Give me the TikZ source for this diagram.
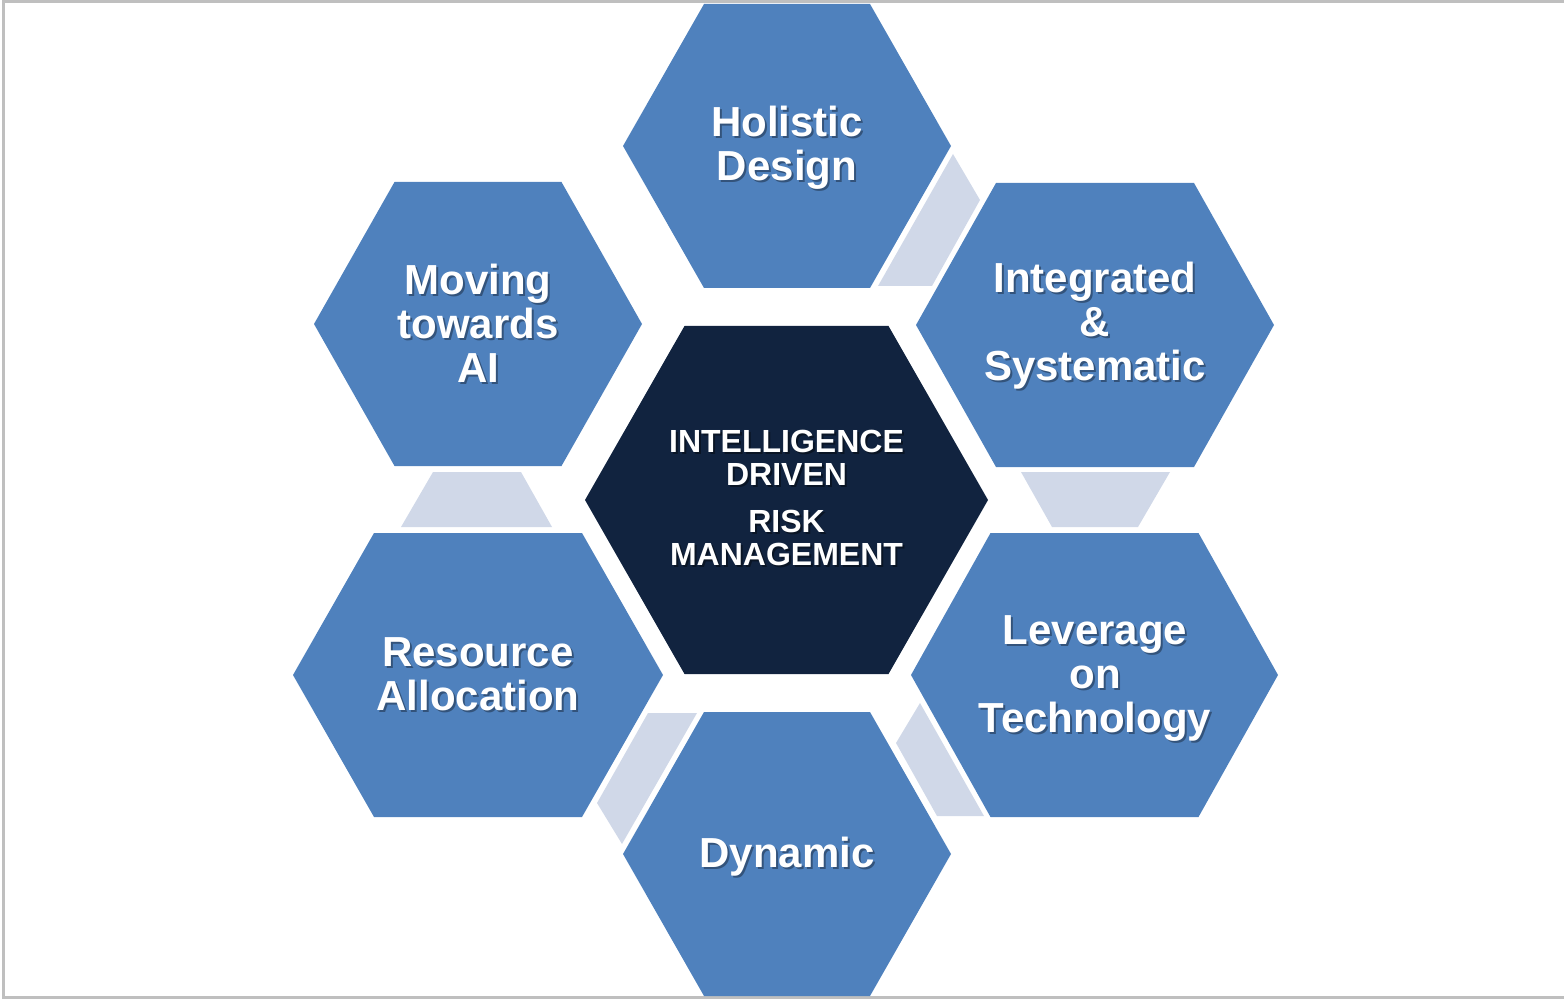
\documentclass[tikz,border=0pt]{standalone}
\usepackage{fontspec}
\setmainfont{Liberation Sans}
\definecolor{hexblue}{HTML}{4F81BD}
\definecolor{hexnavy}{HTML}{11233F}
\definecolor{linkgray}{HTML}{D0D8E8}
\definecolor{framegray}{HTML}{BFBFBF}
\begin{document}
\begin{tikzpicture}[x=0.5pt,y=-0.5pt,line join=miter,
  lbl/.style={text=white,font=\bfseries\fontsize{21}{22}\selectfont,align=center,inner sep=0pt},
  lblshadow/.style={lbl,text=black,opacity=0.35},
  core/.style={text=white,font=\bfseries\fontsize{16}{16.5}\selectfont,align=center,inner sep=0pt},
  coreshadow/.style={core,text=black,opacity=0.4}]
\useasboundingbox (0,0) rectangle (1564,1000);
\draw[framegray,line width=1.1pt] (1566,1.5) -- (3.5,1.5) -- (3.5,997.5) -- (1566,997.5);
% links between the outer cells
\fill[linkgray] (953,154) -- (980,200) -- (932,286) -- (878,286) -- cycle;
\fill[linkgray] (1021,472) -- (1170,472) -- (1138,527) -- (1052,527) -- cycle;
\fill[linkgray] (920,703) -- (984,816) -- (937,816) -- (896,743) -- cycle;
\fill[linkgray] (648,713) -- (697,713) -- (622,844) -- (597,803) -- cycle;
\fill[linkgray] (433,472) -- (521,472) -- (552,527) -- (401,527) -- cycle;
% hexagons: centre x/y, half width, half top edge, half height
\foreach \cx/\cy/\w/\t/\h/\c in {787/146/164/83/142/hexblue, 1095/325/179/99/142/hexblue,
  1094.5/675/183.5/104/142/hexblue, 787/854/164/83/142/hexblue, 478/675/185/104/142/hexblue,
  478/324/164/83.5/142/hexblue, 786.5/500/201.5/102/174/hexnavy}{
  \fill[\c] (\cx-\w,\cy) -- (\cx-\t,\cy-\h) -- (\cx+\t,\cy-\h) -- (\cx+\w,\cy) -- (\cx+\t,\cy+\h) -- (\cx-\t,\cy+\h) -- cycle;}
% labels
\foreach \n/\x/\y/\s in {holistic/787/148/{Holistic\\Design}, integrated/1095/326/{Integrated\\\&\\Systematic},
  leverage/1095/678/{Leverage\\on\\Technology}, dynamic/787/857/{Dynamic},
  resource/478/674/{Resource\\Allocation}, moving/478/323/{Moving\\towards\\AI}}{
  \node[lblshadow] (\n-sh) at (\x+2,\y+2) {\s};
  \node[lbl] (\n) at (\x,\y) {\s};}
\node[coreshadow] (idrm-sh) at (788.5,499.5) {INTELLIGENCE\\DRIVEN\\[7pt]RISK\\MANAGEMENT};
\node[core] (idrm) at (786.5,497.5) {INTELLIGENCE\\DRIVEN\\[7pt]RISK\\MANAGEMENT};
\end{tikzpicture}
\end{document}
